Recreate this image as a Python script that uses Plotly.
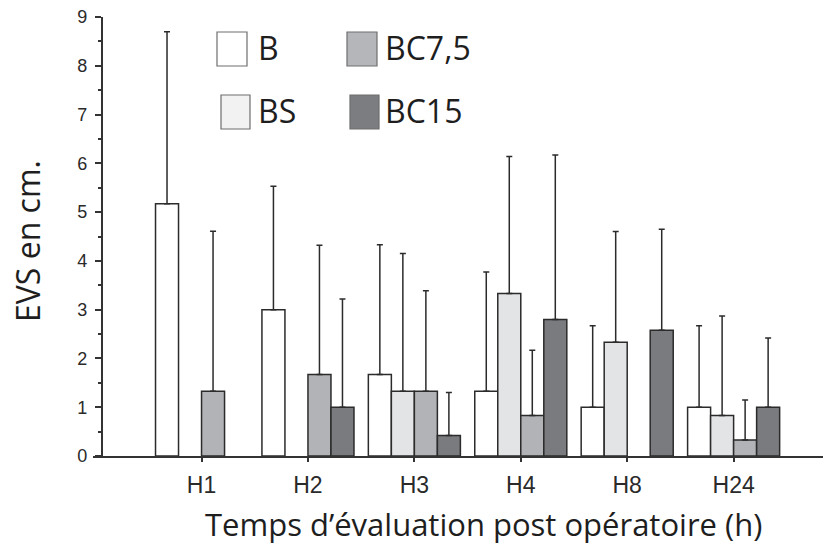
import plotly.graph_objects as go

# ---------------- data ----------------
categories = ["H1", "H2", "H3", "H4", "H8", "H24"]
series_names = ["B", "BS", "BC7,5", "BC15"]

b_mean = [5.17, 3.00, 1.67, 1.33, 1.00, 1.00]
b_sd = [3.53, 2.53, 2.66, 2.44, 1.67, 1.67]

bs_mean = [None, None, 1.33, 3.33, 2.33, 0.83]
bs_sd = [None, None, 2.82, 2.81, 2.27, 2.04]

bc75_mean = [1.33, 1.67, 1.33, 0.83, None, 0.33]
bc75_sd = [3.28, 2.65, 2.06, 1.34, None, 0.82]

bc15_mean = [None, 1.00, 0.42, 2.80, 2.58, 1.00]
bc15_sd = [None, 2.22, 0.88, 3.37, 2.07, 1.42]

y_tick_values = [0, 1, 2, 3, 4, 5, 6, 7, 8, 9]

x_title = "Temps d’évaluation post opératoire (h)"
y_title = "EVS en cm."

# ---------------- styles ----------------
bar_fill = ["#ffffff", "#e3e4e6", "#b2b3b6", "#7a7b7e"]
legend_fill = ["#ffffff", "#f1f2f1", "#b5b6b9", "#7c7d80"]
edge = "#2b2b2b"

W, H = 823, 544
L, R, T, B = 93, 823, 17, 456


def px2x(px):
    return (px - L) / (R - L)


def py2y(py):
    return (B - py) / (B - T)


means = [b_mean, bs_mean, bc75_mean, bc15_mean]
sds = [b_sd, bs_sd, bc75_sd, bc15_sd]

fig = go.Figure()
for name, m, s, col in zip(series_names, means, sds, bar_fill):
    fig.add_trace(go.Bar(
        name=name,
        x=categories,
        y=m,
        marker=dict(color=col, line=dict(color=edge, width=1.5)),
        error_y=dict(type="data", symmetric=False, array=s,
                     arrayminus=[0] * len(s), color=edge,
                     thickness=1.5, width=3),
        showlegend=False,
    ))

# custom legend (boxes + labels)
legend_items = [
    # name index, box left, box right, box top, box bottom, text left
    (0, 217, 247, 32, 66, 256),
    (2, 347, 377, 32, 66, 383),
    (1, 221, 250, 95, 129, 256),
    (3, 350, 379, 95, 129, 383),
]
shapes = []
annotations = []
for idx, x0, x1, y0, y1, tx in legend_items:
    shapes.append(dict(type="rect", xref="paper", yref="paper",
                       x0=px2x(x0), x1=px2x(x1), y0=py2y(y1), y1=py2y(y0),
                       fillcolor=legend_fill[idx],
                       line=dict(color="#6e6e6e", width=1.2)))
    annotations.append(dict(text=series_names[idx], xref="paper", yref="paper",
                            x=px2x(tx), y=py2y((y0 + y1) / 2 - 2),
                            xanchor="left", yanchor="middle", showarrow=False,
                            font=dict(family="Open Sans", size=32, color="#1e1e1e")))

# axis titles
annotations.append(dict(text=x_title, xref="paper", yref="paper",
                        x=px2x(483), y=py2y(524), xanchor="center", yanchor="middle",
                        showarrow=False,
                        font=dict(family="Open Sans", size=31, color="#1e1e1e")))
annotations.append(dict(text=y_title, xref="paper", yref="paper",
                        x=px2x(28), y=py2y(241), xanchor="center", yanchor="middle",
                        textangle=-90, showarrow=False,
                        font=dict(family="Open Sans", size=32, color="#1e1e1e")))

fig.update_layout(
    width=W, height=H, autosize=False,
    margin=dict(l=L, r=W - R, t=T, b=H - B, pad=0),
    paper_bgcolor="white", plot_bgcolor="white",
    barmode="group", bargap=0.135, bargroupgap=0,
    shapes=shapes, annotations=annotations,
    xaxis=dict(
        type="category",
        range=[-1.02, 5.84],
        showline=True, linecolor="#333333", linewidth=1.5,
        ticks="outside", ticklen=4, tickwidth=1.5, tickcolor="#333333",
        showgrid=False, zeroline=False, ticklabelstandoff=4,
        tickfont=dict(family="Liberation Sans", size=23, color="#2a2a2a"),
    ),
    yaxis=dict(
        range=[0, 9],
        tickvals=y_tick_values,
        anchor="free", position=px2x(101.5),
        showline=True, linecolor="#333333", linewidth=1.5,
        ticks="outside", ticklen=6, tickwidth=1.5, tickcolor="#333333",
        minor=dict(dtick=0.5, ticks="outside", ticklen=3, tickwidth=1.5,
                   tickcolor="#333333", showgrid=False),
        showgrid=False, zeroline=False, ticklabelstandoff=4,
        tickfont=dict(family="Liberation Sans", size=18, color="#2a2a2a"),
    ),
)

fig.write_html("out.html", config={"displayModeBar": False},
               post_script="document.body.style.margin='0';")
